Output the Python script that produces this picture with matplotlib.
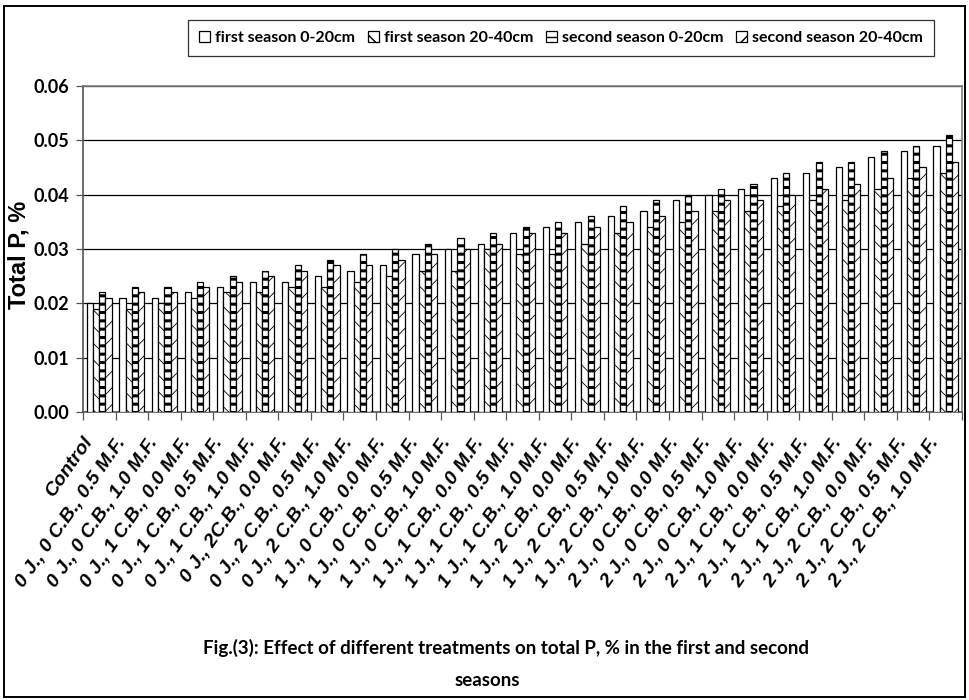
import matplotlib
matplotlib.use("Agg")
import matplotlib.pyplot as plt
import matplotlib.transforms as mtransforms
import numpy as np
from matplotlib.patches import Rectangle

categories = [
    "Control",
    "0 J., 0 C.B., 0.5 M.F.", "0 J., 0 C.B., 1.0 M.F.",
    "0 J., 1 C.B., 0.0 M.F.", "0 J., 1 C.B., 0.5 M.F.", "0 J., 1 C.B., 1.0 M.F.",
    "0 J., 2C.B., 0.0 M.F.", "0 J., 2 C.B., 0.5 M.F.", "0 J., 2 C.B., 1.0 M.F.",
    "1 J., 0 C.B., 0.0 M.F.", "1 J., 0 C.B., 0.5 M.F.", "1 J., 0 C.B., 1.0 M.F.",
    "1 J., 1 C.B., 0.0 M.F.", "1 J., 1 C.B., 0.5 M.F.", "1 J., 1 C.B., 1.0 M.F.",
    "1 J., 2 C.B., 0.0 M.F.", "1 J., 2 C.B., 0.5 M.F.", "1 J., 2 C.B., 1.0 M.F.",
    "2 J., 0 C.B., 0.0 M.F.", "2 J., 0 C.B., 0.5 M.F.", "2 J., 0 C.B., 1.0 M.F.",
    "2 J., 1 C.B., 0.0 M.F.", "2 J., 1 C.B., 0.5 M.F.", "2 J., 1 C.B., 1.0 M.F.",
    "2 J., 2 C.B., 0.0 M.F.", "2 J., 2 C.B., 0.5 M.F.", "2 J., 2 C.B., 1.0 M.F.",
]

first_0_20 = [0.020, 0.021, 0.021, 0.022, 0.023, 0.024, 0.024, 0.025, 0.026,
              0.027, 0.029, 0.030, 0.031, 0.033, 0.034, 0.035, 0.036, 0.037,
              0.039, 0.040, 0.041, 0.043, 0.044, 0.045, 0.047, 0.048, 0.049]
first_20_40 = [0.019, 0.019, 0.020, 0.021, 0.022, 0.022, 0.023, 0.023, 0.024,
               0.025, 0.026, 0.026, 0.030, 0.029, 0.029, 0.031, 0.033, 0.034,
               0.035, 0.037, 0.037, 0.038, 0.039, 0.039, 0.041, 0.043, 0.044]
second_0_20 = [0.022, 0.023, 0.023, 0.024, 0.025, 0.026, 0.027, 0.028, 0.029,
               0.030, 0.031, 0.032, 0.033, 0.034, 0.035, 0.036, 0.038, 0.039,
               0.040, 0.041, 0.042, 0.044, 0.046, 0.046, 0.048, 0.049, 0.051]
second_20_40 = [0.021, 0.022, 0.022, 0.023, 0.024, 0.025, 0.026, 0.027, 0.027,
                0.028, 0.029, 0.030, 0.031, 0.033, 0.033, 0.034, 0.035, 0.036,
                0.037, 0.039, 0.039, 0.040, 0.041, 0.042, 0.043, 0.045, 0.046]

series_names = ["first season 0-20cm", "first season 20-40cm",
                "second season 0-20cm", "second season 20-40cm"]

NARROW = ["Lato", "Liberation Sans", "DejaVu Sans"]
ARIAL = ["Liberation Sans", "DejaVu Sans"]
plt.rcParams["font.family"] = NARROW
plt.rcParams["font.weight"] = "bold"

W, H = 969, 700
fig = plt.figure(figsize=(W / 100, H / 100), dpi=100)

# axes placement in pixels
L, R, T, B = 83, 962, 86, 412
ax = fig.add_axes([L / W, 1 - B / H, (R - L) / W, (B - T) / H])

n = len(categories)
x = np.arange(n) + 0.5
w = 0.19
styles = [
    dict(hatch=None, lw_h=0.8),
    dict(hatch="\\\\", lw_h=0.6),
    dict(hatch="--", lw_h=2.2),
    dict(hatch="//", lw_h=0.6),
]
data = [first_0_20, first_20_40, second_0_20, second_20_40]
handles = []
for k, (vals, st) in enumerate(zip(data, styles)):
    with plt.rc_context({"hatch.linewidth": st["lw_h"]}):
        ax.bar(x + (k - 1.5) * w, vals, width=w, color="white",
               edgecolor="black", linewidth=0.9, hatch=st["hatch"], zorder=3)
        h = Rectangle((0, 0), 1, 1, facecolor="white", edgecolor="black",
                      linewidth=0.9, hatch=st["hatch"])
    handles.append(h)

ax.set_xlim(0, n)
ax.set_ylim(0, 0.06)
yt = np.arange(0, 0.0601, 0.01)
ax.set_yticks(yt)
ax.set_yticklabels([f"{v:.2f}" for v in yt], fontsize=13, fontweight="bold")
ax.yaxis.grid(True, color="black", linewidth=0.9, zorder=0)
ax.set_axisbelow(True)

ax.set_xticks(np.arange(0, n + 1))
ax.set_xticklabels([])
ax.tick_params(axis="x", which="major", length=6, width=0.9, color="#555555")
ax.tick_params(axis="y", length=5, width=0.9, color="#555555", pad=5)

# category labels, anchored at group centres via the data transform
lab_tr = mtransforms.blended_transform_factory(ax.transData, ax.transAxes) + \
    mtransforms.ScaledTranslation(-10 / 100, -27 / 100, fig.dpi_scale_trans)
for xi, lab in zip(x, categories):
    ax.text(xi, 0, lab, transform=lab_tr, rotation=55, rotation_mode="anchor",
            ha="right", va="center", fontsize=14, fontweight="bold",
            fontstyle="italic", family=ARIAL, clip_on=False)

for s in ax.spines.values():
    s.set_color("#7f7f7f")
    s.set_linewidth(1.2)
ax.spines["bottom"].set_color("#555555")
ax.spines["left"].set_color("#555555")

ax.set_ylabel("Total P, %", fontsize=17, fontweight="bold", family=ARIAL)
ax.yaxis.set_label_coords((31 - L) / (R - L), (B - 255) / (B - T))

leg = fig.legend(handles, series_names, loc="center",
                 bbox_to_anchor=((184 + 938) / 2 / W, 1 - 38 / H),
                 ncol=4, frameon=True, fancybox=False, edgecolor="black",
                 handlelength=0.7, handleheight=0.7, handletextpad=0.3,
                 columnspacing=0.8, borderpad=0.7,
                 prop={"weight": "bold", "size": 11.5, "family": NARROW})
leg.get_frame().set_linewidth(0.9)

fig.text(506 / W, 1 - 648 / H,
         "Fig.(3): Effect of different treatments on total P, % in the first and second",
         ha="center", va="center", fontsize=13.5, fontweight="bold")
fig.text(487 / W, 1 - 681 / H, "seasons", ha="center", va="center",
         fontsize=13.5, fontweight="bold")

fig.patches.append(Rectangle((4 / W, 3 / H), (W - 8) / W, (H - 9) / H,
                             transform=fig.transFigure, fill=False,
                             edgecolor="black", linewidth=1.4))

fig.savefig("out.png", dpi=100, facecolor="white")
